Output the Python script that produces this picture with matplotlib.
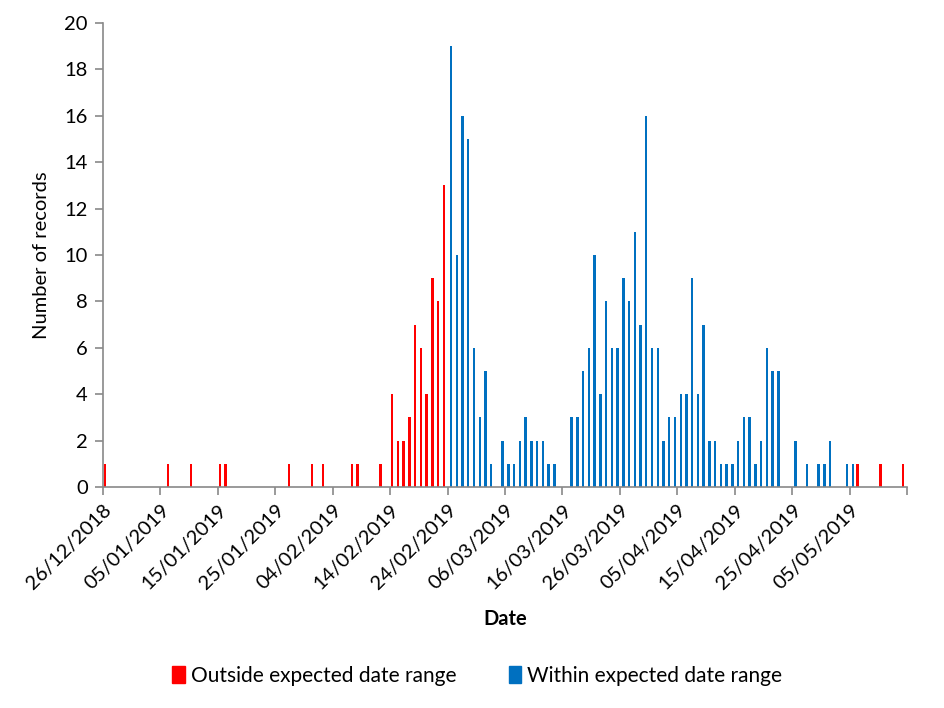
import pandas as pd
import matplotlib
matplotlib.use("Agg")
import matplotlib.pyplot as plt
import matplotlib.dates as mdates
from matplotlib.patches import Patch

plt.rcParams["font.family"] = ["Lato", "DejaVu Sans"]

# records per day, split by whether the date falls in the expected range
outside_dates = [
    "2018-12-26", "2019-01-06", "2019-01-10", "2019-01-15", "2019-01-16",
    "2019-01-27", "2019-01-31", "2019-02-02", "2019-02-07", "2019-02-08",
    "2019-02-12", "2019-02-14", "2019-02-15", "2019-02-16", "2019-02-17",
    "2019-02-18", "2019-02-19", "2019-02-20", "2019-02-21", "2019-02-22",
    "2019-02-23", "2019-05-06", "2019-05-10", "2019-05-14",
]
outside_counts = [1, 1, 1, 1, 1, 1, 1, 1, 1, 1, 1, 4, 2, 2, 3, 7, 6, 4, 9, 8, 13, 1, 1, 1]

within_dates = [
    "2019-02-24", "2019-02-25", "2019-02-26", "2019-02-27", "2019-02-28",
    "2019-03-01", "2019-03-02", "2019-03-03", "2019-03-05", "2019-03-06",
    "2019-03-07", "2019-03-08", "2019-03-09", "2019-03-10", "2019-03-11",
    "2019-03-12", "2019-03-13", "2019-03-14", "2019-03-17", "2019-03-18",
    "2019-03-19", "2019-03-20", "2019-03-21", "2019-03-22", "2019-03-23",
    "2019-03-24", "2019-03-25", "2019-03-26", "2019-03-27", "2019-03-28",
    "2019-03-29", "2019-03-30", "2019-03-31", "2019-04-01", "2019-04-02",
    "2019-04-03", "2019-04-04", "2019-04-05", "2019-04-06", "2019-04-07",
    "2019-04-08", "2019-04-09", "2019-04-10", "2019-04-11", "2019-04-12",
    "2019-04-13", "2019-04-14", "2019-04-15", "2019-04-16", "2019-04-17",
    "2019-04-18", "2019-04-19", "2019-04-20", "2019-04-21", "2019-04-22",
    "2019-04-25", "2019-04-27", "2019-04-29", "2019-04-30", "2019-05-01",
    "2019-05-04", "2019-05-05",
]
within_counts = [
    19, 10, 16, 15, 6, 3, 5, 1, 2, 1, 1, 2, 3, 2, 2, 2, 1, 1,
    3, 3, 5, 6, 10, 4, 8, 6, 6, 9, 8, 11, 7, 16, 6, 6, 2, 3, 3,
    4, 4, 9, 4, 7, 2, 2, 1, 1, 1, 2, 3, 3, 1, 2, 6, 5, 5,
    2, 1, 1, 1, 2, 1, 1,
]

tick_start = "2018-12-26"
tick_end = "2019-05-15"

RED = "#ff0000"
BLUE = "#0070c0"
GREY = "#898989"

x_out = mdates.date2num(pd.to_datetime(outside_dates))
x_in = mdates.date2num(pd.to_datetime(within_dates))
t0 = mdates.date2num(pd.Timestamp(tick_start))
t1 = mdates.date2num(pd.Timestamp(tick_end))

fig = plt.figure(figsize=(9.45, 7.08), dpi=100)
ax = fig.add_axes([103 / 945, 1 - 487 / 708, (907 - 103) / 945, (487 - 23) / 708])

w = 0.42
ax.bar(x_out + 0.35, outside_counts, width=w, color=RED, linewidth=0)
ax.bar(x_in + 0.6, within_counts, width=w, color=BLUE, linewidth=0)

ax.set_xlim(t0, t1)
ax.set_ylim(0, 20)
ax.set_yticks(range(0, 21, 2))

ticks = [t0 + 10 * i for i in range(15)]
labels = [mdates.num2date(t).strftime("%d/%m/%Y") for t in ticks[:-1]] + [""]
ax.set_xticks(ticks)
ax.set_xticklabels(labels, rotation=45, ha="right", rotation_mode="anchor")

for s in ["top", "right"]:
    ax.spines[s].set_visible(False)
for s in ["left", "bottom"]:
    ax.spines[s].set_color(GREY)
    ax.spines[s].set_linewidth(1.2)
ax.tick_params(axis="both", colors=GREY, width=1.2, length=6, labelcolor="black", labelsize=14.5)
ax.tick_params(axis="x", pad=4)
ax.tick_params(axis="y", pad=5)

ax.set_ylabel("Number of records", fontsize=14.5, labelpad=10)
fig.text((103 + 907) / 2 / 945, 1 - 619 / 708, "Date", ha="center", va="center",
         fontsize=14.5, fontweight="bold")

handles = [Patch(color=RED, label="Outside expected date range"),
           Patch(color=BLUE, label="Within expected date range")]
fig.legend(handles=handles, loc="center", bbox_to_anchor=(0.505, 1 - 676 / 708), ncol=2,
           frameon=False, fontsize=15, handlelength=0.6, handleheight=0.9,
           handletextpad=0.3, columnspacing=2.5)

fig.savefig("out.png", dpi=100)
